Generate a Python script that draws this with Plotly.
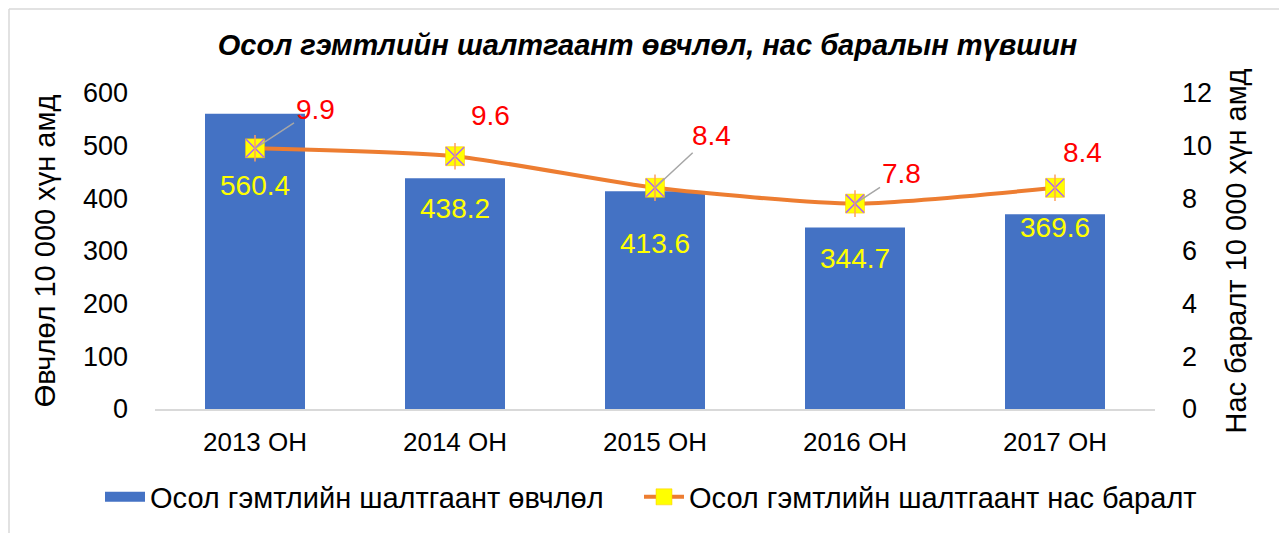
import plotly.graph_objects as go

categories = ["2013 ОН", "2014 ОН", "2015 ОН", "2016 ОН", "2017 ОН"]
morbidity = [560.4, 438.2, 413.6, 344.7, 369.6]
mortality = [9.9, 9.6, 8.4, 7.8, 8.4]

title_text = "Осол гэмтлийн шалтгаант өвчлөл, нас баралын түвшин"
bar_name = "Осол гэмтлийн шалтгаант өвчлөл"
line_name = "Осол гэмтлийн шалтгаант нас баралт"
y1_title = "Өвчлөл 10 000 хүн амд"
y2_title = "Нас баралт 10 000 хүн амд"

FONT = "Liberation Sans, Arial, sans-serif"
BLUE = "#4472C4"
ORANGE = "#ED7D31"

fig = go.Figure()
fig.add_trace(go.Bar(
    x=categories, y=morbidity, name=bar_name, showlegend=False,
    marker=dict(color=BLUE, line=dict(width=0)),
    width=0.5, yaxis="y",
))
# legend stand-in for the bar series (wide rectangular swatch)
fig.add_trace(go.Scatter(
    x=[categories[0]], y=[None], name=bar_name, mode="lines",
    line=dict(color=BLUE, width=15), yaxis="y", legend="legend",
    hoverinfo="skip",
))
fig.add_trace(go.Scatter(
    x=categories, y=mortality, name=line_name, yaxis="y2",
    mode="lines+markers", legend="legend2",
    line=dict(color=ORANGE, width=4, shape="spline", smoothing=0.6),
    marker=dict(symbol="square", size=19, color="#FFFF00",
                line=dict(color="#FFC000", width=0.5)),
))
fig.add_trace(go.Scatter(
    x=categories, y=mortality, yaxis="y2", mode="markers", showlegend=False,
    marker=dict(symbol="x-thin-open", size=18, line=dict(color=ORANGE, width=1.5)),
    hoverinfo="skip",
))
fig.add_trace(go.Scatter(
    x=categories, y=mortality, yaxis="y2", mode="markers", showlegend=False,
    marker=dict(symbol="line-ns-open", size=19, line=dict(color=ORANGE, width=1.5)),
    hoverinfo="skip",
))

annotations = []
# bar value labels (yellow, inside bars)
bar_label_shift = [-72, -30, -52, -31, -13]
for c, v, s in zip(categories, morbidity, bar_label_shift):
    annotations.append(dict(
        x=c, y=v, yref="y", xref="x", text=f"{v:.1f}", showarrow=False,
        yshift=s, font=dict(family=FONT, size=28, color="#FFFF00"),
    ))
# line value labels (red) with leader lines where present
line_label_offsets = [(60, -39, True), (35, -41, False), (56, -52, True),
                      (46, -30, True), (27, -35, False)]
for c, v, (ax, ay, lead) in zip(categories, mortality, line_label_offsets):
    if lead:
        annotations.append(dict(
            x=c, y=v, yref="y2", xref="x", text=f"{v:.1f}",
            showarrow=True, arrowhead=0, arrowwidth=1.5, arrowcolor="#A6A6A6",
            ax=ax, ay=ay, standoff=0,
            font=dict(family=FONT, size=28, color="#FF0000"),
        ))
    else:
        annotations.append(dict(
            x=c, y=v, yref="y2", xref="x", text=f"{v:.1f}", showarrow=False,
            xshift=ax, yshift=-ay,
            font=dict(family=FONT, size=28, color="#FF0000"),
        ))

PW, PH = 1000.0, 316.0  # plot area size in px
legend_common = dict(orientation="h", xref="container", yref="container",
                     xanchor="left", y=1 - 489 / 525, yanchor="middle",
                     font=dict(size=29), itemwidth=40,
                     bgcolor="rgba(0,0,0,0)")
fig.update_layout(
    width=1279, height=525,
    margin=dict(l=147, r=132, t=85, b=124),
    paper_bgcolor="white", plot_bgcolor="white",
    font=dict(family=FONT, size=27, color="#000000"),
    title=dict(text=f"<b><i>{title_text}</i></b>", x=0.5, xanchor="center",
               y=1 - 37 / 525, yanchor="middle",
               font=dict(family=FONT, size=29, color="#000000")),
    xaxis=dict(showgrid=False, showline=True, linecolor="#D9D9D9", linewidth=1.5,
               ticks="", tickfont=dict(size=26), range=[-0.5, 4.5],
               ticklabelstandoff=9),
    yaxis=dict(range=[0, 600], dtick=100, showgrid=False, zeroline=False,
               showline=False, ticks="", tickfont=dict(size=27),
               ticklabelstandoff=26,
               title=dict(text=y1_title, font=dict(size=29), standoff=18)),
    yaxis2=dict(range=[0, 12], dtick=2, overlaying="y", side="right",
                showgrid=False, zeroline=False, showline=False, ticks="",
                tickfont=dict(size=27), ticklabelstandoff=26,
                title=dict(text=y2_title, font=dict(size=29), standoff=14)),
    legend=dict(x=92 / 1279, **legend_common),
    legend2=dict(x=631 / 1279, **legend_common),
    annotations=annotations,
    shapes=[
        dict(type="line", xref="paper", yref="paper",
             x0=(9 - 155) / PW, x1=(9 - 155) / PW,
             y0=(409 - 533) / PH, y1=(409 - 9) / PH,
             line=dict(color="#D9D9D9", width=1.5)),
        dict(type="line", xref="paper", yref="paper",
             x0=(9 - 155) / PW, x1=(1287 - 155) / PW,
             y0=(409 - 9) / PH, y1=(409 - 9) / PH,
             line=dict(color="#D9D9D9", width=1.5)),
    ],
)

fig.write_html("out.html")
